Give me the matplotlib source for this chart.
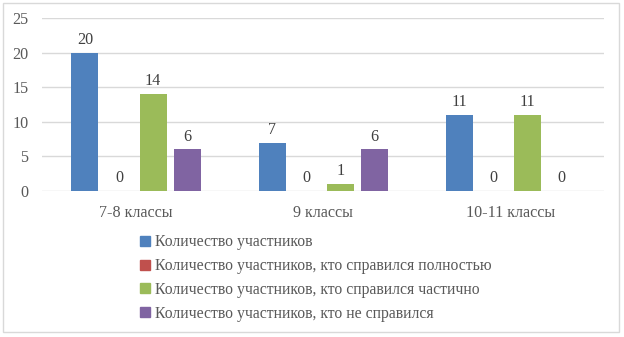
import matplotlib.pyplot as plt
from matplotlib.patches import Patch, Rectangle
import numpy as np

# Data
categories = ['7-8 классы', '9 классы', '10-11 классы']
series_names = [
    'Количество участников',
    'Количество участников, кто справился полностью',
    'Количество участников, кто справился частично',
    'Количество участников, кто не справился',
]
total = [20, 7, 11]
full = [0, 0, 0]
partial = [14, 1, 11]
failed = [6, 6, 0]
colors = ['#4F81BD', '#C0504D', '#9BBB59', '#8064A2']

plt.rcParams['font.family'] = ['Liberation Serif', 'DejaVu Serif']
text_col = '#595959'
fs = 11.6

fig = plt.figure(figsize=(6.24, 3.37), dpi=100)
ax = fig.add_axes([0.068, 0.4332, 0.9, 0.5134])

x = np.arange(len(categories))
step = 0.182
width = 0.144
all_series = [total, full, partial, failed]
for i, vals in enumerate(all_series):
    pos = x + (i - 1.5) * step
    bars = ax.bar(pos, vals, width, color=colors[i], zorder=3)
    for b, v in zip(bars, vals):
        ax.annotate(str(v), (b.get_x() + b.get_width() / 2, v),
                    xytext=(0, 3.5), textcoords='offset points',
                    ha='center', va='bottom', fontsize=fs, color='#404040')

ax.set_xlim(-0.5, 2.5)
ax.set_ylim(0, 25)
ax.set_yticks(range(0, 26, 5))
ax.set_xticks(x)
ax.set_xticklabels(categories)
ax.grid(axis='y', color='#d9d9d9', linewidth=1, zorder=0)
for s in ax.spines.values():
    s.set_visible(False)
ax.tick_params(axis='both', length=0, labelsize=fs, colors=text_col)
ax.tick_params(axis='x', pad=10)
ax.tick_params(axis='y', pad=10)

handles = [Patch(color=c) for c in colors]
fig.legend(handles, series_names, loc='upper left',
           bbox_to_anchor=(0.225, 0.305), frameon=False,
           fontsize=11.3, labelcolor=text_col,
           handlelength=0.6, handleheight=0.6, handletextpad=0.35,
           labelspacing=0.5, borderaxespad=0, borderpad=0)

fig.patches.append(Rectangle((3 / 624, 1 - 332 / 337), 616 / 624, 329 / 337,
                             transform=fig.transFigure, fill=False,
                             edgecolor='#d9d9d9', linewidth=1))

fig.savefig('out.png', dpi=100)
